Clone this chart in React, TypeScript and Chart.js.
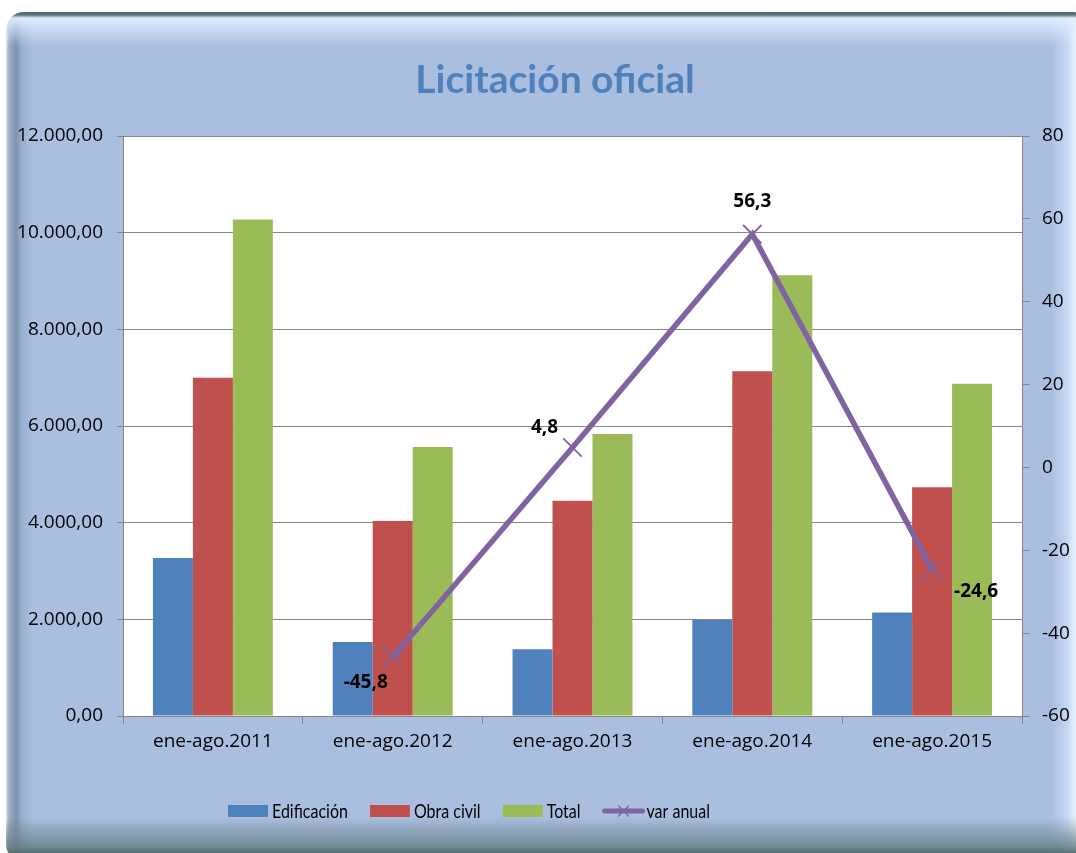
import React, { useEffect, useRef } from "react";
import { Chart, registerables } from "chart.js";

Chart.register(...registerables);

const categories = ["ene-ago.2011", "ene-ago.2012", "ene-ago.2013", "ene-ago.2014", "ene-ago.2015"];
const edificacion = [3270, 1530, 1380, 1985, 2140];
const obraCivil = [7000, 4036, 4453, 7132, 4734];
const total = [10270, 5566, 5833, 9117, 6874];
const varAnual: (number | null)[] = [null, -45.8, 4.8, 56.3, -24.6];
const varAnualLabels = ["", "-45,8", "4,8", "56,3", "-24,6"];
const seriesNames = ["Edificación", "Obra civil", "Total", "var anual"];
const title = "Licitación oficial";

const labelOffsets = [null, [-27, 25], [-28, -20], [0, -33], [44, 22]];

const BLUE = "#4F81BD";
const RED = "#C0504D";
const GREEN = "#9BBB59";
const PURPLE = "#8064A2";
const GRID = "#868686";

function fmtEs(v: number): string {
  const int = Math.round(Math.abs(v)).toString().replace(/\B(?=(\d{3})+(?!\d))/g, ".");
  return (v < 0 ? "-" : "") + int + ",00";
}

function drawCross(ctx: CanvasRenderingContext2D, x: number, y: number, r: number) {
  ctx.beginPath();
  ctx.moveTo(x - r, y - r);
  ctx.lineTo(x + r, y + r);
  ctx.moveTo(x + r, y - r);
  ctx.lineTo(x - r, y + r);
  ctx.stroke();
}

const decorPlugin = {
  id: "decor",
  beforeDraw(chart: any) {
    const { ctx, chartArea } = chart;
    ctx.save();
    ctx.fillStyle = "#ffffff";
    ctx.fillRect(chartArea.left, chartArea.top, chartArea.right - chartArea.left, chartArea.bottom - chartArea.top);
    ctx.restore();
  },
  afterDatasetsDraw(chart: any) {
    const { ctx } = chart;
    const meta = chart.getDatasetMeta(3);
    ctx.save();
    ctx.font = "bold 19px 'Open Sans'";
    ctx.fillStyle = "#000";
    ctx.textAlign = "center";
    ctx.textBaseline = "middle";
    meta.data.forEach((pt: any, i: number) => {
      const off = labelOffsets[i];
      if (!off || varAnual[i] === null) return;
      ctx.fillText(varAnualLabels[i], pt.x + off[0], pt.y + off[1]);
    });
    ctx.restore();
  },
  afterDraw(chart: any) {
    const { ctx } = chart;
    ctx.save();
    // title
    ctx.font = "bold 39px Lato";
    ctx.fillStyle = "#4F81BD";
    ctx.textAlign = "center";
    ctx.textBaseline = "middle";
    ctx.fillText(title, 555, 80);
    // legend
    ctx.font = "20px Lato";
    ctx.textAlign = "left";
    ctx.fillStyle = "#000";
    const y = 811;
    let x = 228;
    const sx = 0.8;
    const colors = [BLUE, RED, GREEN];
    for (let i = 0; i < 4; i++) {
      if (i < 3) {
        ctx.fillStyle = colors[i];
        ctx.fillRect(x, y - 6, 40, 12);
      } else {
        ctx.strokeStyle = PURPLE;
        ctx.lineWidth = 5;
        ctx.lineCap = "round";
        ctx.beginPath();
        ctx.moveTo(x + 2, y);
        ctx.lineTo(x + 40, y);
        ctx.stroke();
        ctx.lineWidth = 1.5;
        drawCross(ctx, x + 21, y, 5);
      }
      ctx.fillStyle = "#000";
      ctx.save();
      ctx.translate(x + 44, y + 1);
      ctx.scale(sx, 1);
      ctx.fillText(seriesNames[i], 0, 0);
      ctx.restore();
      const w = ctx.measureText(seriesNames[i]).width * sx;
      x += 44 + w + 22;
    }
    ctx.restore();
  },
};

export default function App() {
  const ref = useRef<HTMLCanvasElement>(null);
  useEffect(() => {
    if (!ref.current) return;
    const tickFont = { family: "'Open Sans'", size: 19 };
    const chart = new Chart(ref.current, {
      type: "bar",
      data: {
        labels: categories,
        datasets: [
          { label: seriesNames[0], data: edificacion, backgroundColor: BLUE, yAxisID: "y", order: 1, categoryPercentage: 0.667, barPercentage: 1 },
          { label: seriesNames[1], data: obraCivil, backgroundColor: RED, yAxisID: "y", order: 1, categoryPercentage: 0.667, barPercentage: 1 },
          { label: seriesNames[2], data: total, backgroundColor: GREEN, yAxisID: "y", order: 1, categoryPercentage: 0.667, barPercentage: 1 },
          {
            type: "line",
            label: seriesNames[3],
            data: varAnual as any,
            borderColor: PURPLE,
            backgroundColor: PURPLE,
            borderWidth: 5.5,
            yAxisID: "y1",
            order: 0,
            pointStyle: "crossRot",
            pointRadius: 13,
            pointBorderWidth: 1.8,
            pointBorderColor: PURPLE,
            tension: 0,
          } as any,
        ],
      },
      options: {
        responsive: false,
        animation: false,
        layout: { padding: { top: 136, bottom: 97, left: 0, right: 0 } },
        plugins: { legend: { display: false }, title: { display: false }, tooltip: { enabled: false } },
        scales: {
          x: {
            offset: true,
            grid: { offset: true, drawOnChartArea: false, drawTicks: true, tickLength: 8, color: GRID },
            border: { display: true, color: GRID, width: 1 },
            ticks: { color: "#000", font: tickFont, padding: 6, maxRotation: 0 },
            afterFit: (s: any) => { s.height = 40; },
          },
          y: {
            position: "left",
            min: 0,
            max: 12000,
            ticks: { stepSize: 2000, color: "#000", font: tickFont, padding: 14, callback: (v: any) => fmtEs(Number(v)) },
            grid: { color: GRID, lineWidth: 1, tickLength: 6, tickColor: GRID },
            border: { display: true, color: GRID, width: 1 },
            afterFit: (s: any) => { s.width = 123; },
          },
          y1: {
            position: "right",
            min: -60,
            max: 80,
            ticks: { stepSize: 20, color: "#000", font: tickFont, padding: 12 },
            grid: { drawOnChartArea: false, tickLength: 8, color: GRID },
            border: { display: true, color: GRID, width: 1 },
            afterFit: (s: any) => { s.width = 54; },
          },
        },
      },
      plugins: [decorPlugin],
    } as any);
    return () => chart.destroy();
  }, []);

  return (
    <div style={{ position: "fixed", left: 0, top: 0, width: 1076, height: 853, background: "#fff", overflow: "hidden" }}>
      <div
        style={{
          position: "absolute",
          left: 6,
          top: 12,
          width: 1085,
          height: 850,
          borderRadius: 18,
          backgroundColor: "#AABFE0",
          backgroundImage: [
            "linear-gradient(to bottom, #52696e 0px, #5d767a 3px, rgba(225,238,255,0.95) 6px, rgba(170,191,224,0) 34px)",
            "linear-gradient(to top, rgba(78,100,100,0) 0px, #4c6565 6px, rgba(100,125,130,0.8) 16px, rgba(170,191,224,0) 45px)",
            "linear-gradient(to right, #dfe7f0 0px, #9ab0c6 3px, #7d94ab 10px, rgba(140,165,195,0.6) 16px, rgba(170,191,224,0) 26px)",
            "linear-gradient(to left, rgba(255,255,255,0) 0px, #ffffff 9px, #f0f8ff 14px, rgba(205,225,250,0.7) 24px, rgba(170,191,224,0) 40px)",
          ].join(","),
        }}
      />
      <canvas ref={ref} width={1076} height={853} style={{ position: "absolute", left: 0, top: 0, width: 1076, height: 853 }} />
    </div>
  );
}
